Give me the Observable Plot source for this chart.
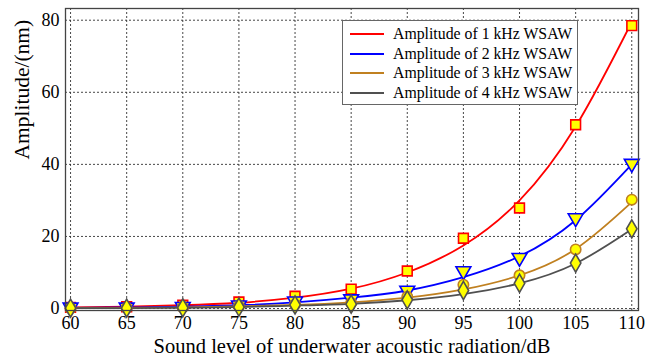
<!DOCTYPE html>
<html>
<head>
<meta charset="utf-8">
<script src="https://cdn.jsdelivr.net/npm/d3@7"></script>
<script src="https://cdn.jsdelivr.net/npm/@observablehq/plot@0.6"></script>
<style>
  body { margin: 0; background: #fff; }
  #wrap { position: relative; width: 647px; height: 360px; font-family: "Liberation Serif", "Times New Roman", serif; }
  #legend { position: absolute; left: 342px; top: 20px; width: 234px; height: 83px; background: #fff; border: 1px solid #666; box-sizing: content-box; }
  .row { position: absolute; left: 0; height: 20px; display: flex; align-items: center; font-size: 15.8px; color: #000; white-space: nowrap; }
  .row svg { margin-left: 7px; margin-right: 9px; }
</style>
</head>
<body>
<div id="wrap"></div>
<script>
const xs = [60, 65, 70, 75, 80, 85, 90, 95, 100, 105, 110];
const seriesNames = ["Amplitude of 1 kHz WSAW", "Amplitude of 2 kHz WSAW", "Amplitude of 3 kHz WSAW", "Amplitude of 4 kHz WSAW"];
const colors = ["#ff0000", "#0000ff", "#c08020", "#505050"];
const symbols = ["square", "triangle", "circle", "diamond"];
const rotations = [0, 180, 0, 0];
// measured points
const pts1k = [0.3, 0.5, 0.9, 1.8, 3.4, 5.4, 10.4, 19.5, 27.9, 51, 78.5];
const pts2k = [0.3, 0.3, 0.5, 0.9, 2.0, 2.6, 5.0, 10.4, 14.1, 25.1, 40.2];
const pts3k = [0.1, 0.2, 0.3, 0.6, 1.1, 1.5, 3.3, 6.6, 9.2, 16.4, 30.2];
const pts4k = [0.1, 0.1, 0.2, 0.4, 1.0, 1.2, 2.4, 5.0, 7.0, 12.6, 22.1];
// fitted curves
const fit1k = [0.3, 0.5, 0.9, 1.6, 3.0, 5.5, 10.0, 17.5, 30.0, 50.5, 79.5];
const fit2k = [0.2, 0.3, 0.5, 0.9, 1.7, 3.0, 5.0, 8.7, 14.5, 24.5, 40.0];
const fit3k = [0.1, 0.2, 0.3, 0.6, 1.0, 1.7, 3.0, 5.3, 9.2, 16.5, 29.5];
const fit4k = [0.1, 0.1, 0.2, 0.4, 0.8, 1.3, 2.3, 4.0, 7.0, 12.5, 22.0];
const yTicks = [0, 20, 40, 60, 80];

const ptsAll = [pts1k, pts2k, pts3k, pts4k];
const fitAll = [fit1k, fit2k, fit3k, fit4k];
const points = [], fits = [];
ptsAll.forEach((arr, i) => arr.forEach((v, j) => points.push({x: xs[j], y: v, s: i})));
fitAll.forEach((arr, i) => arr.forEach((v, j) => fits.push({x: xs[j], y: v, s: i})));

const marks = [
  Plot.gridX(xs, {stroke: "#333", strokeOpacity: 0.9, strokeDasharray: "2,2", strokeWidth: 1}),
  Plot.gridY(yTicks, {stroke: "#333", strokeOpacity: 0.9, strokeDasharray: "2,2", strokeWidth: 1}),
  Plot.axisX(xs, {tickSize: 0, tickPadding: 6, fontSize: 18, label: null, tickFormat: d => String(d)}),
  Plot.axisY(yTicks, {tickSize: 0, tickPadding: 6, fontSize: 18, label: null}),
];
for (let i = 0; i < 4; i++) {
  marks.push(Plot.line(fits.filter(d => d.s === i), {x: "x", y: "y", curve: "natural", stroke: colors[i], strokeWidth: 1.8}));
}
for (let i = 0; i < 4; i++) {
  marks.push(Plot.dot(points.filter(d => d.s === i), {x: "x", y: "y", symbol: () => symbols[i], rotate: rotations[i], r: i === 2 ? 5.2 : 5.5, fill: "#ffff00", stroke: colors[i], strokeWidth: 1.6}));
}
marks.push(Plot.frame({stroke: "#444", strokeWidth: 1.3}));
marks.push(Plot.text(["Sound level of underwater acoustic radiation/dB"], {frameAnchor: "bottom", dy: 36, lineAnchor: "middle", fontSize: 20.5, fill: "#000"}));
marks.push(Plot.text(["Amplitude/(nm)"], {frameAnchor: "left", dx: -43, rotate: -90, lineAnchor: "middle", fontSize: 21.5, fill: "#000"}));

const chart = Plot.plot({
  width: 647,
  height: 360,
  marginLeft: 65,
  marginRight: 9,
  marginTop: 8,
  marginBottom: 50,
  style: {fontFamily: "'Liberation Serif', 'Times New Roman', serif", color: "#000", background: "#fff"},
  x: {domain: [59.55, 110.6]},
  y: {domain: [-0.55, 83.25]},
  marks
});
const wrap = document.getElementById("wrap");
wrap.appendChild(chart);

const legend = document.createElement("div");
legend.id = "legend";
seriesNames.forEach((name, i) => {
  const row = document.createElement("div");
  row.className = "row";
  row.style.top = (3 + i * 19.7) + "px";
  row.innerHTML = `<svg width="34" height="4"><line x1="0" y1="2" x2="34" y2="2" stroke="${colors[i]}" stroke-width="2"/></svg><span>${name}</span>`;
  legend.appendChild(row);
});
wrap.appendChild(legend);
</script>
</body>
</html>
